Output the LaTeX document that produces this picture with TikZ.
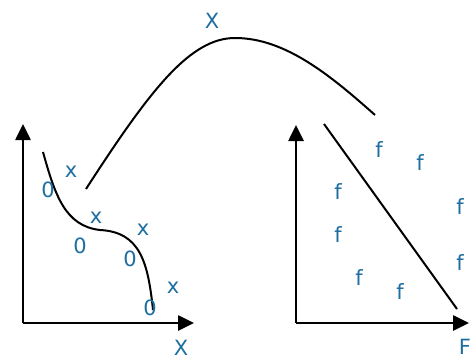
\documentclass[tikz,border=0pt]{standalone}
\usepackage{fontspec}
\setmainfont{DejaVu Sans}
\usetikzlibrary{arrows.meta}
\definecolor{lblue}{RGB}{30,110,160}
\begin{document}
\begin{tikzpicture}[x=1pt,y=-1pt,
  axis/.style={line width=2.6pt,-{Triangle[length=16pt,width=15pt]}},
  curve/.style={line width=2pt},
  lbl/.style={text=lblue,inner sep=0pt,font=\fontsize{21}{21}\selectfont}]
\path[use as bounding box] (0,0) rectangle (470,358);
% left axes
\coordinate (lo) at (23,323);
\coordinate (ly) at (23,124);
\coordinate (lx) at (194,323);
\draw[axis] (lo) -- (ly);
\draw[axis] (lo) -- (lx);
% right axes
\coordinate (ro) at (296,323);
\coordinate (ry) at (296,125);
\coordinate (rx) at (469,323);
\draw[axis] (ro) -- (ry);
\draw[axis] (ro) -- (rx);
% S curve
\coordinate (s0) at (43,152);
\coordinate (s1) at (100,230);
\coordinate (s2) at (153,310);
\draw[curve] (s0) .. controls (55,195) and (65,226) .. (s1) .. controls (140,232) and (148,262) .. (s2);
% big arc
\coordinate (a0) at (86,189);
\coordinate (a1) at (235,38);
\coordinate (a2) at (375,115);
\draw[curve] (a0) .. controls (150,90) and (190,38) .. (a1) .. controls (285,38) and (330,75) .. (a2);
% diagonal
\coordinate (d0) at (324,124);
\coordinate (d1) at (457,309);
\draw[curve] (d0) -- (d1);
% labels
\node[lbl] (tX) at (212,21) {X};
\node[lbl] (bX) at (181,348) {X};
\node[lbl] (bF) at (465,347) {F};
\node[lbl] (x1) at (71,172) {x};
\node[lbl] (o1) at (48,190) {0};
\node[lbl] (x2) at (96,218) {x};
\node[lbl] (o2) at (80,246) {0};
\node[lbl] (x3) at (143,230) {x};
\node[lbl] (o3) at (130,259) {0};
\node[lbl] (x4) at (173,288) {x};
\node[lbl] (o4) at (150,308) {0};
\node[lbl] (f1) at (379,150) {f};
\node[lbl] (f2) at (420,163) {f};
\node[lbl] (f3) at (338,192) {f};
\node[lbl] (f4) at (338,235) {f};
\node[lbl] (f5) at (460,207) {f};
\node[lbl] (f6) at (460,263) {f};
\node[lbl] (f7) at (359,278) {f};
\node[lbl] (f8) at (400,292) {f};
\end{tikzpicture}
\end{document}
